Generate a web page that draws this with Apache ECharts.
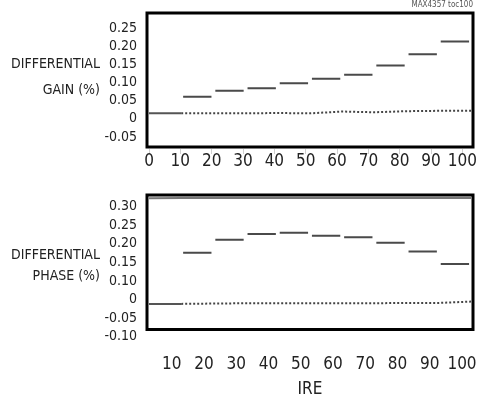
<!DOCTYPE html>
<html>
<head>
<meta charset="utf-8">
<script src="https://cdn.jsdelivr.net/npm/echarts@6/dist/echarts.min.js"></script>
<style>
  html, body { margin: 0; padding: 0; background: #fff; }
  #chart { width: 480px; height: 400px; }
</style>
</head>
<body>
<div id="chart"></div>
<script>
// IRE step boundaries, each step is one flat segment
const stepEdges = [10, 20, 30, 40, 50, 60, 70, 80, 90, 100]
const gainSteps = [0.061, 0.077, 0.084, 0.098, 0.110, 0.121, 0.147, 0.178, 0.213]
const phaseSteps = [0.158, 0.198, 0.216, 0.220, 0.211, 0.206, 0.189, 0.162, 0.124]

// reference (dotted) traces
const baseX = [0, 10, 20, 30, 40, 50, 60, 70, 80, 90, 100]
const gainBase = [0.015, 0.015, 0.015, 0.015, 0.016, 0.015, 0.020, 0.018, 0.021, 0.022, 0.022]
const phaseBase = [0.001, 0.001, 0.002, 0.003, 0.003, 0.003, 0.003, 0.003, 0.004, 0.004, 0.008]
const phaseTop = [0.326, 0.327, 0.327, 0.327, 0.327, 0.327, 0.327, 0.327, 0.327, 0.327, 0.327]

// tick labels
const gainTicks = ['-0.05', '0', '0.05', '0.10', '0.15', '0.20', '0.25']
const phaseTicks = ['-0.10', '-0.05', '0', '0.10', '0.15', '0.20', '0.25', '0.30']

const FONT = '"DejaVu Sans Condensed", "Liberation Sans", sans-serif'

function stepData(vals) {
  let out = []
  vals.forEach((v, i) => {
    out.push([stepEdges[i] + 0.6, v])
    out.push([stepEdges[i + 1] - 0.6, v])
    out.push([stepEdges[i + 1], '-'])
  })
  return out
}
function pairs(xs, ys, from, to) {
  let out = []
  xs.forEach((x, i) => {
    if (x >= from && x <= to) out.push([x, ys[i]])
  })
  return out
}

const dataX = (idx) => ({ type: 'value', gridIndex: idx, min: -0.62, max: 100.62, show: false })

const myChart = echarts.init(document.getElementById('chart'), null, { renderer: 'canvas' })
let option = {
  animation: false,
  backgroundColor: '#fff',
  grid: [
    // data boxes
    { left: 147, top: 13, width: 326, height: 134, show: true, borderColor: '#000', borderWidth: 3, backgroundColor: 'transparent' },
    { left: 147, top: 195, width: 326, height: 134.5, show: true, borderColor: '#000', borderWidth: 3, backgroundColor: 'transparent' },
    // y tick label grids
    { left: 147, top: 28, width: 326, height: 109 },
    { left: 147, top: 206.7, width: 326, height: 130 },
    // x tick label grids
    { left: 149, top: 13, width: 322, height: 136 },
    { left: 171.7, top: 195, width: 290.3, height: 140 }
  ],
  xAxis: [
    dataX(0),
    dataX(1),
    { type: 'value', gridIndex: 2, show: false },
    { type: 'value', gridIndex: 3, show: false },
    {
      type: 'value', gridIndex: 4, min: 0, max: 100, interval: 10, position: 'bottom',
      axisLine: { show: false },
      axisTick: { show: true, length: 5, lineStyle: { color: '#d0d0d0', width: 1 } },
      splitLine: { show: false },
      axisLabel: { margin: 4, color: '#222', fontSize: 17, fontFamily: FONT }
    },
    {
      type: 'value', gridIndex: 5, min: 10, max: 100, interval: 10, position: 'bottom',
      axisLine: { show: false }, axisTick: { show: false }, splitLine: { show: false },
      axisLabel: { margin: 21, color: '#222', fontSize: 17, fontFamily: FONT }
    }
  ],
  yAxis: [
    { type: 'value', gridIndex: 0, min: -0.0776, max: 0.2913, show: false },
    { type: 'value', gridIndex: 1, min: -0.0778, max: 0.336, show: false },
    {
      type: 'category', gridIndex: 2, data: gainTicks, boundaryGap: false,
      axisLine: { show: false }, axisTick: { show: false },
      axisLabel: { margin: 10, color: '#222', fontSize: 14, fontFamily: FONT, interval: 0 }
    },
    {
      type: 'category', gridIndex: 3, data: phaseTicks, boundaryGap: false,
      axisLine: { show: false }, axisTick: { show: false },
      axisLabel: { margin: 10, color: '#222', fontSize: 14, fontFamily: FONT, interval: 0 }
    },
    { type: 'value', gridIndex: 4, show: false },
    { type: 'value', gridIndex: 5, show: false }
  ],
  series: [
    {
      name: 'gain', type: 'line', xAxisIndex: 0, yAxisIndex: 0, showSymbol: false,
      data: stepData(gainSteps), lineStyle: { color: '#4a4a4a', width: 2 }
    },
    {
      name: 'gain ref', type: 'line', xAxisIndex: 0, yAxisIndex: 0, showSymbol: false,
      data: pairs(baseX, gainBase, 0, 10), lineStyle: { color: '#555', width: 2 }
    },
    {
      name: 'gain ref dots', type: 'line', xAxisIndex: 0, yAxisIndex: 0, showSymbol: false,
      data: pairs(baseX, gainBase, 10, 100), lineStyle: { color: '#444', width: 2, type: [2, 2] }
    },
    {
      name: 'phase', type: 'line', xAxisIndex: 1, yAxisIndex: 1, showSymbol: false,
      data: stepData(phaseSteps), lineStyle: { color: '#4a4a4a', width: 2 }
    },
    {
      name: 'phase ref', type: 'line', xAxisIndex: 1, yAxisIndex: 1, showSymbol: false,
      data: pairs(baseX, phaseBase, 0, 10), lineStyle: { color: '#555', width: 2 }
    },
    {
      name: 'phase ref dots', type: 'line', xAxisIndex: 1, yAxisIndex: 1, showSymbol: false,
      data: pairs(baseX, phaseBase, 10, 100), lineStyle: { color: '#444', width: 2, type: [2, 2] }
    },
    {
      name: 'phase top', type: 'line', xAxisIndex: 1, yAxisIndex: 1, showSymbol: false,
      data: pairs(baseX, phaseTop, 0, 100), lineStyle: { color: '#777', width: 2 }
    }
  ],
  graphic: [
    { type: 'text', x: 100, y: 64, style: { text: 'DIFFERENTIAL', font: '14px ' + FONT, fill: '#222', align: 'right', verticalAlign: 'middle' } },
    { type: 'text', x: 100, y: 90, style: { text: 'GAIN (%)', font: '14px ' + FONT, fill: '#222', align: 'right', verticalAlign: 'middle' } },
    { type: 'text', x: 100, y: 255, style: { text: 'DIFFERENTIAL', font: '14px ' + FONT, fill: '#222', align: 'right', verticalAlign: 'middle' } },
    { type: 'text', x: 100, y: 276, style: { text: 'PHASE (%)', font: '14px ' + FONT, fill: '#222', align: 'right', verticalAlign: 'middle' } },
    { type: 'text', x: 310, y: 390, style: { text: 'IRE', font: '17px ' + FONT, fill: '#222', align: 'center', verticalAlign: 'middle' } },
    { type: 'text', x: 473, y: 5, style: { text: 'MAX4357 toc100', font: '8px ' + FONT, fill: '#555', align: 'right', verticalAlign: 'middle' } }
  ]
}
myChart.setOption(option)
</script>
</body>
</html>
